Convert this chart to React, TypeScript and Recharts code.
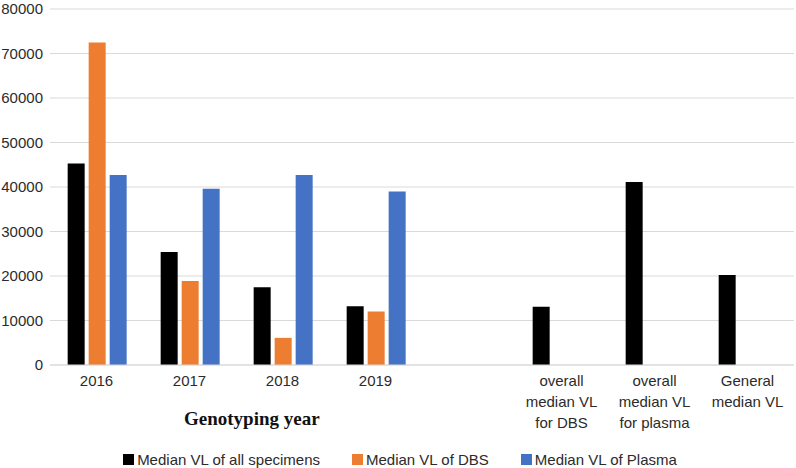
import { BarChart, Bar, XAxis, YAxis, CartesianGrid, Legend } from 'recharts'

const categories = ['2016', '2017', '2018', '2019', '', 'overall median VL for DBS', 'overall median VL for plasma', 'General median VL']
const tickLines = [['2016'], ['2017'], ['2018'], ['2019'], [''], ['overall', 'median VL', 'for DBS'], ['overall', 'median VL', 'for plasma'], ['General', 'median VL']]
const allSpecimens = [45300, 25400, 17500, 13200, null, 13100, 41100, 20200]
const dbs = [72500, 18850, 6100, 12000, null, null, null, null]
const plasma = [42700, 39600, 42700, 39000, null, null, null, null]
const yTicks = [0, 10000, 20000, 30000, 40000, 50000, 60000, 70000, 80000]

const series = [
  { key: 'all', name: 'Median VL of all specimens', color: '#000000' },
  { key: 'dbs', name: 'Median VL of DBS', color: '#ED7D31' },
  { key: 'plasma', name: 'Median VL of Plasma', color: '#4472C4' },
]

const data = categories.map((c, i) => ({
  category: c,
  all: allSpecimens[i],
  dbs: dbs[i],
  plasma: plasma[i],
}))

const textColor = '#2b2b2b'
const gridColor = '#d9d9d9'

function CategoryTick(props: any) {
  const { x, y, payload } = props
  const idx = categories.indexOf(payload.value)
  const lines = idx >= 0 ? tickLines[idx] : [payload.value]
  return (
    <text x={x} y={y} textAnchor="middle" fill={textColor} fontSize={15}>
      {lines.map((l, i) => (
        <tspan key={i} x={x} dy={i === 0 ? 13 : 21}>
          {l}
        </tspan>
      ))}
    </text>
  )
}

function LegendContent() {
  return (
    <div style={{ display: 'flex', justifyContent: 'center', gap: 32, paddingTop: 3, paddingLeft: 6, fontSize: 15, color: textColor, lineHeight: '17px' }}>
      {series.map((s) => (
        <div key={s.key} style={{ display: 'flex', alignItems: 'center' }}>
          <span style={{ display: 'inline-block', width: 11, height: 11, background: s.color, marginRight: 3 }} />
          <span>{s.name}</span>
        </div>
      ))}
    </div>
  )
}

export default function App() {
  return (
    <div style={{ position: 'absolute', left: 0, top: 0, width: 796, height: 468, fontFamily: '"Liberation Sans", Arial, sans-serif', background: '#fff' }}>
      <BarChart
        width={796}
        height={468}
        data={data}
        margin={{ top: 9, right: 2, left: 0, bottom: 0 }}
        barCategoryGap="19%"
        barGap={4}
      >
        <CartesianGrid vertical={false} stroke={gridColor} />
        <XAxis
          dataKey="category"
          tickLine={false}
          axisLine={{ stroke: gridColor }}
          height={83}
          interval={0}
          tick={<CategoryTick />}
        />
        <YAxis
          domain={[0, 80000]}
          ticks={yTicks}
          width={50}
          tickLine={false}
          axisLine={false}
          tickSize={0}
          tickMargin={7}
          tick={{ fontSize: 15, fill: textColor }}
        />
        <Legend verticalAlign="bottom" height={20} content={<LegendContent />} />
        {series.map((s) => (
          <Bar key={s.key} dataKey={s.key} name={s.name} fill={s.color} isAnimationActive={false} />
        ))}
      </BarChart>
      <div
        style={{
          position: 'absolute',
          left: 184,
          top: 408,
          fontFamily: '"Liberation Serif", "Times New Roman", serif',
          fontWeight: 'bold',
          fontSize: 19,
          color: '#111',
          whiteSpace: 'nowrap',
        }}
      >
        Genotyping year
      </div>
    </div>
  )
}
